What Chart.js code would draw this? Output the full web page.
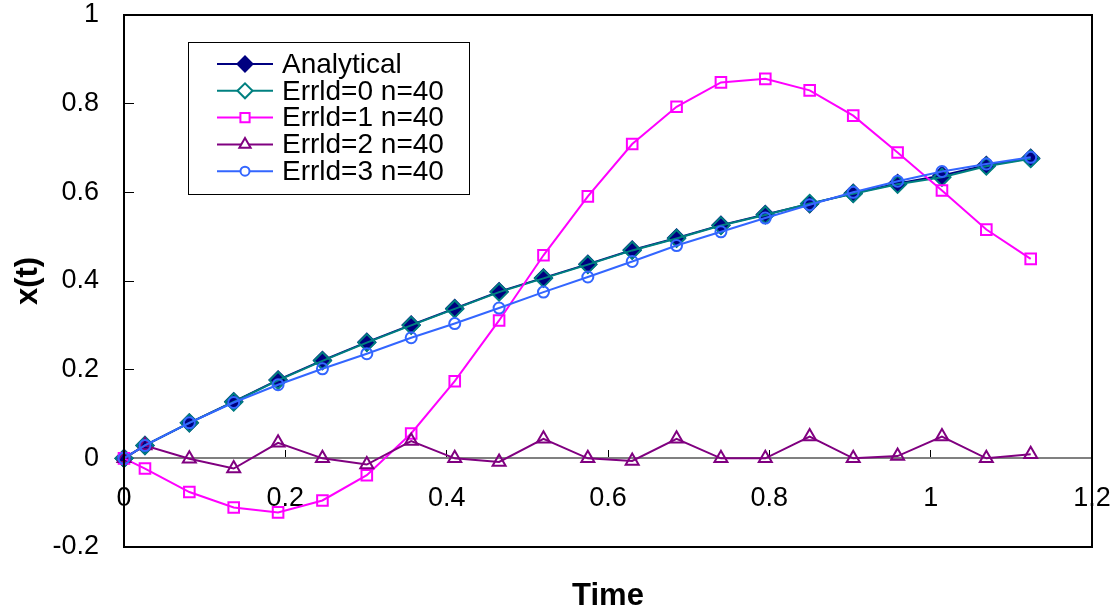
<!DOCTYPE html>
<html>
<head>
<meta charset="utf-8">
<script src="https://cdn.jsdelivr.net/npm/chart.js@4.4.1/dist/chart.umd.min.js"></script>
<style>
  html, body { margin: 0; padding: 0; background: #fff; }
  #wrap { width: 1117px; height: 615px; }
</style>
</head>
<body>
<div id="wrap"><canvas id="chart"></canvas></div>
<script>
// values
const timeValues = [0, 0.026, 0.081, 0.136, 0.191, 0.246, 0.301, 0.356, 0.410, 0.465, 0.520,
                    0.575, 0.630, 0.685, 0.740, 0.795, 0.850, 0.904, 0.959, 1.014, 1.069, 1.124];
const analytical = [0, 0.029, 0.080, 0.128, 0.177, 0.221, 0.262, 0.301, 0.338, 0.376, 0.407,
                    0.438, 0.470, 0.497, 0.526, 0.550, 0.574, 0.598, 0.620, 0.638, 0.661, 0.677];
const errId0 = [0, 0.029, 0.080, 0.127, 0.176, 0.220, 0.261, 0.300, 0.337, 0.375, 0.406,
                0.437, 0.469, 0.496, 0.525, 0.549, 0.575, 0.597, 0.618, 0.634, 0.659, 0.676];
const errId1 = [0, -0.023, -0.076, -0.111, -0.122, -0.095, -0.038, 0.056, 0.174, 0.311, 0.458,
                0.591, 0.709, 0.793, 0.848, 0.856, 0.830, 0.773, 0.690, 0.604, 0.516, 0.450];
const errId2 = [0, 0.029, -0.001, -0.023, 0.035, 0.000, -0.014, 0.039, 0.000, -0.008, 0.044,
                0.000, -0.006, 0.044, 0.000, 0.000, 0.049, 0.000, 0.005, 0.049, 0.000, 0.009];
const errId3 = [0, 0.029, 0.080, 0.126, 0.166, 0.202, 0.236, 0.272, 0.304, 0.339, 0.375,
                0.409, 0.444, 0.480, 0.511, 0.542, 0.572, 0.600, 0.625, 0.647, 0.664, 0.679];
const seriesNames = ['Analytical', 'Errld=0 n=40', 'Errld=1 n=40', 'Errld=2 n=40', 'Errld=3 n=40'];

const FONT = '"Liberation Sans", Arial, sans-serif';
const toPoints = ys => ys.map((y, i) => ({ x: timeValues[i], y: y }));
const fmt = v => String(Math.round(v * 10) / 10);

const makeSet = (i, data, color, style, radius, fill, order) => ({
    label: seriesNames[i],
    data: toPoints(data),
    borderColor: color,
    borderWidth: 2,
    pointStyle: style,
    pointRadius: radius,
    pointBorderColor: color,
    pointBackgroundColor: fill,
    pointBorderWidth: 2,
    legendFill: fill === 'rgba(0,0,0,0)' ? '#fff' : fill,
    tension: 0,
    clip: false,
    order: order
});

// black box round the plot area
const frame = {
    id: 'frame',
    afterDraw(chart) {
        const { ctx, chartArea: a } = chart;
        ctx.save();
        ctx.strokeStyle = '#000';
        ctx.lineWidth = 2;
        ctx.strokeRect(a.left, a.top, a.right - a.left, a.bottom - a.top);
        ctx.restore();
    }
};

// legend box inside the plot, like the original
const boxLegend = {
    id: 'boxLegend',
    afterDraw(chart) {
        const ctx = chart.ctx, a = chart.chartArea;
        const bx = a.left + 64, by = a.top + 27, bw = 281, bh = 152;
        ctx.save();
        ctx.fillStyle = '#fff';
        ctx.fillRect(bx, by, bw, bh);
        ctx.strokeStyle = '#000';
        ctx.lineWidth = 1;
        ctx.strokeRect(bx + 0.5, by + 0.5, bw, bh);
        chart.data.datasets.forEach((ds, i) => {
            const y = by + 22 + i * 26.8;
            ctx.strokeStyle = ds.borderColor;
            ctx.lineWidth = 2;
            ctx.beginPath();
            ctx.moveTo(bx + 29, y);
            ctx.lineTo(bx + 85, y);
            ctx.stroke();
            ctx.fillStyle = ds.legendFill;
            Chart.helpers.drawPoint(ctx, { pointStyle: ds.pointStyle, radius: ds.pointRadius - 1, borderWidth: 2, rotation: 0 }, bx + 57, y);
            ctx.fillStyle = '#000';
            ctx.font = '28px ' + FONT;
            ctx.textBaseline = 'middle';
            ctx.textAlign = 'left';
            ctx.fillText(ds.label, bx + 94, y + 1);
        });
        ctx.restore();
    }
};

new Chart(document.getElementById('chart'), {
    type: 'line',
    data: {
        datasets: [
            makeSet(0, analytical, '#000080', 'rectRot', 8.5, '#000080', 4),
            makeSet(1, errId0, '#008080', 'rectRot', 8.5, 'rgba(0,0,0,0)', 3),
            makeSet(2, errId1, '#FF00FF', 'rect', 7.5, 'rgba(0,0,0,0)', 2),
            makeSet(3, errId2, '#800080', 'triangle', 7.5, 'rgba(0,0,0,0)', 1),
            makeSet(4, errId3, '#3366FF', 'circle', 5.5, 'rgba(0,0,0,0)', 0)
        ]
    },
    options: {
        responsive: true,
        maintainAspectRatio: false,
        animation: false,
        events: [],
        layout: { padding: { left: 10, right: 25, top: 15, bottom: 0 } },
        plugins: { legend: { display: false }, tooltip: { enabled: false } },
        scales: {
            x: {
                type: 'linear', position: 'bottom', min: 0, max: 1.2,
                ticks: { display: false },
                grid: { display: false },
                border: { display: false },
                title: { display: true, text: 'Time', color: '#000', padding: 0, font: { family: FONT, size: 31, weight: 'bold' } },
                afterFit(s) { s.height = 68; }
            },
            x2: {
                type: 'linear', axis: 'x', position: { y: 0 }, min: 0, max: 1.2,
                ticks: { stepSize: 0.2, padding: 33, color: '#000', font: { family: FONT, size: 27 }, callback: fmt },
                grid: { drawOnChartArea: false, drawTicks: true, tickLength: -9, color: '#000', lineWidth: 1 },
                border: { display: true, color: '#808080', width: 2 },
                afterFit(s) { s.paddingLeft = 0; s.paddingRight = 0; }
            },
            y: {
                type: 'linear', position: 'left', min: -0.2, max: 1,
                ticks: { stepSize: 0.2, padding: 35, color: '#000', font: { family: FONT, size: 27 }, callback: fmt },
                grid: { drawOnChartArea: false, drawTicks: true, tickLength: -10, color: '#000', lineWidth: 1 },
                border: { display: false },
                title: { display: true, text: 'x(t)', color: '#000', padding: 0, font: { family: FONT, size: 31, weight: 'bold' } },
                afterFit(s) { s.width = 114; s.paddingTop = 0; s.paddingBottom = 0; }
            }
        }
    },
    plugins: [frame, boxLegend]
});
</script>
</body>
</html>
